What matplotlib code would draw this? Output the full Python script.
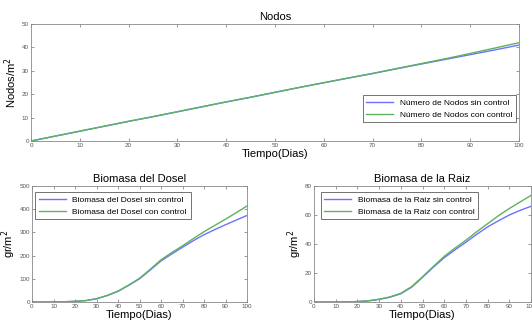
import matplotlib.pyplot as plt

plt.rcParams['font.family'] = ['Liberation Sans', 'DejaVu Sans']

# days
t = [0, 5, 10, 15, 20, 25, 30, 35, 40, 45, 50, 55, 60, 65, 70, 75, 80, 85, 90, 95, 100]

# Nodos/m^2
nodos_sin = [0, 2.1, 4.2, 6.3, 8.4, 10.4, 12.5, 14.6, 16.7, 18.7, 20.8,
             22.9, 24.9, 26.9, 28.8, 30.9, 32.9, 34.9, 36.9, 38.9, 41.0]
nodos_con = [0, 2.1, 4.2, 6.3, 8.4, 10.4, 12.5, 14.6, 16.7, 18.7, 20.8,
             22.9, 24.9, 26.9, 28.9, 31.0, 33.1, 35.2, 37.4, 39.7, 42.0]

# Biomasa del Dosel gr/m^2
dosel_sin = [0, 0, 0.5, 1, 3, 6, 14, 28, 46, 72, 100,
             138, 177, 207, 236, 264, 290, 312, 333, 353, 373]
dosel_con = [0, 0, 0.5, 1, 3, 6, 14, 28, 47, 73, 102,
             141, 182, 213, 242, 273, 303, 330, 357, 385, 414]

# Biomasa de la Raiz gr/m^2
raiz_sin = [0, 0, 0.05, 0.1, 0.3, 0.8, 1.8, 3.3, 5.7, 10.2, 17,
            24, 30.5, 36, 41.2, 46.7, 51.8, 56, 60, 63.2, 66]
raiz_con = [0, 0, 0.05, 0.1, 0.3, 0.8, 1.9, 3.5, 6.0, 10.6, 17.4,
            24.5, 31.5, 37.2, 42.6, 48.5, 54, 59.5, 64.5, 69, 73.5]

blue = '#7070ff'
green = '#5cb35c'
W, H = 532, 329
fig = plt.figure(figsize=(W / 100, H / 100), dpi=100)


def box(l, r, top, bot):
    return [l / W, 1 - bot / H, (r - l) / W, (bot - top) / H]


def style(ax, ylim, yticks):
    ax.set_xlim(0, 100)
    ax.set_ylim(*ylim)
    ax.set_xticks(range(0, 101, 10))
    ax.set_yticks(yticks)
    ax.tick_params(direction='in', top=True, right=True, labelsize=4.5,
                   labelcolor='#555555', color='#888888', length=2.5, width=0.6, pad=1.5)
    for s in ax.spines.values():
        s.set_color('#888888')
        s.set_linewidth(0.6)


def legend(ax, **kw):
    leg = ax.legend(fontsize=6, frameon=True, fancybox=False, edgecolor='#333333',
                    handlelength=3.2, borderpad=0.45, labelspacing=0.45,
                    borderaxespad=0, **kw)
    leg.get_frame().set_linewidth(0.6)


ax1 = fig.add_axes(box(31, 519, 24, 141))
ax1.plot(t, nodos_sin, color=blue, lw=1, label='Número de Nodos sin control')
ax1.plot(t, nodos_con, color=green, lw=1, label='Número de Nodos con control')
style(ax1, (0, 50), range(0, 51, 10))
ax1.set_title('Nodos', fontsize=8, pad=3)
ax1.set_xlabel('Tiempo(Dias)', fontsize=8, labelpad=1)
ax1.set_ylabel('Nodos/m$^2$', fontsize=8, labelpad=2)
legend(ax1, loc='lower right', bbox_to_anchor=(0.994, 0.16))

ax2 = fig.add_axes(box(32, 247, 186, 302))
ax2.plot(t, dosel_sin, color=blue, lw=1, label='Biomasa del Dosel sin control')
ax2.plot(t, dosel_con, color=green, lw=1, label='Biomasa del Dosel con control')
style(ax2, (0, 500), range(0, 501, 100))
ax2.set_title('Biomasa del Dosel', fontsize=8, pad=3)
ax2.set_xlabel('Tiempo(Dias)', fontsize=8, labelpad=1)
ax2.set_ylabel('gr/m$^2$', fontsize=8, labelpad=1)
legend(ax2, loc='upper left', bbox_to_anchor=(0.015, 0.945))

ax3 = fig.add_axes(box(314, 531, 186, 302))
ax3.plot(t, raiz_sin, color=blue, lw=1, label='Biomasa de la Raiz sin control')
ax3.plot(t, raiz_con, color=green, lw=1, label='Biomasa de la Raiz con control')
style(ax3, (0, 80), range(0, 81, 20))
ax3.set_title('Biomasa de la Raiz', fontsize=8, pad=3)
ax3.set_xlabel('Tiempo(Dias)', fontsize=8, labelpad=1)
ax3.set_ylabel('gr/m$^2$', fontsize=8, labelpad=1)
legend(ax3, loc='upper left', bbox_to_anchor=(0.03, 0.945))

fig.savefig('out.png', dpi=100)
